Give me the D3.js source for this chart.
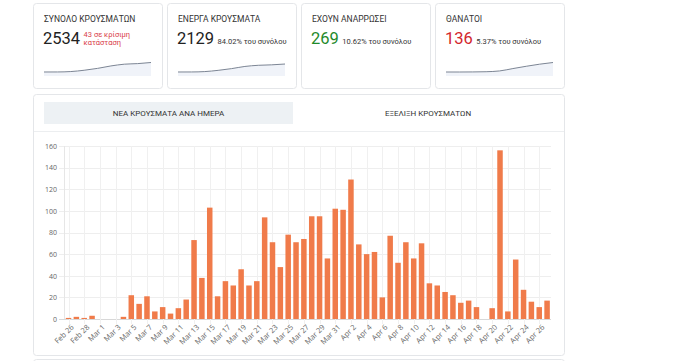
<!DOCTYPE html>
<html>
<head>
<meta charset="utf-8">
<script src="https://cdn.jsdelivr.net/npm/d3@7"></script>
<style>
  body { margin: 0; background: #fff; font-family: Roboto, "Open Sans", sans-serif; }
  svg { display: block; }
</style>
</head>
<body>
<svg id="page" width="680" height="361"></svg>
<script>
// summary cards
const cardTitles = ["ΣΥΝΟΛΟ ΚΡΟΥΣΜΑΤΩΝ", "ΕΝΕΡΓΑ ΚΡΟΥΣΜΑΤΑ", "ΕΧΟΥΝ ΑΝΑΡΡΩΣΕΙ", "ΘΑΝΑΤΟΙ"]
const cardValues = [2534, 2129, 269, 136]
const cardNotes = [["43 σε κρίσιμη", "κατάσταση"], ["84.02% του συνόλου"], ["10.62% του συνόλου"], ["5.37% του συνόλου"]]
const cardColors = ["#222", "#222", "#1f8a2b", "#d3262d"]
const noteColors = ["#d9404a", "#333", "#333", "#333"]

// sparklines (cumulative, sampled weekly)
const sparkTotal = [1, 9, 117, 464, 966, 1613, 2081, 2235, 2534]
const sparkActive = [1, 9, 112, 440, 900, 1480, 1790, 1910, 2129]
const sparkDeaths = [0, 0, 1, 4, 15, 49, 82, 112, 136]
const sparks = [sparkTotal, sparkActive, null, sparkDeaths]
const sparkMax = [2534, 2534, 0, 136]

// tabs
const tabs = ["ΝΕΑ ΚΡΟΥΣΜΑΤΑ ΑΝΑ ΗΜΕΡΑ", "ΕΞΕΛΙΞΗ ΚΡΟΥΣΜΑΤΩΝ"]

// new cases per day
const days = [
  "Feb 26", "Feb 27", "Feb 28", "Feb 29",
  "Mar 1", "Mar 2", "Mar 3", "Mar 4", "Mar 5", "Mar 6", "Mar 7", "Mar 8", "Mar 9", "Mar 10",
  "Mar 11", "Mar 12", "Mar 13", "Mar 14", "Mar 15", "Mar 16", "Mar 17", "Mar 18", "Mar 19", "Mar 20",
  "Mar 21", "Mar 22", "Mar 23", "Mar 24", "Mar 25", "Mar 26", "Mar 27", "Mar 28", "Mar 29", "Mar 30", "Mar 31",
  "Apr 1", "Apr 2", "Apr 3", "Apr 4", "Apr 5", "Apr 6", "Apr 7", "Apr 8", "Apr 9", "Apr 10",
  "Apr 11", "Apr 12", "Apr 13", "Apr 14", "Apr 15", "Apr 16", "Apr 17", "Apr 18", "Apr 19", "Apr 20",
  "Apr 21", "Apr 22", "Apr 23", "Apr 24", "Apr 25", "Apr 26", "Apr 27"
]
const newCases = [
  1, 2, 1, 3,
  0, 0, 0, 2, 22, 14, 21, 7, 11, 5,
  10, 18, 73, 38, 103, 21, 35, 31, 46, 31,
  35, 94, 71, 48, 78, 71, 74, 95, 95, 56, 102,
  101, 129, 69, 60, 62, 20, 77, 52, 71, 56,
  70, 33, 31, 25, 22, 15, 17, 11, 0, 10,
  156, 7, 55, 27, 16, 11, 17
]
const yTicks = [0, 20, 40, 60, 80, 100, 120, 140, 160]
const xTickLabels = days.filter((d, i) => i % 2 === 0)

const svg = d3.select('#page')

// ---- cards
const cardW = 129, cardTop = 3, cardH = 85
const cardX = d3.scaleOrdinal().domain(d3.range(4)).range([33, 167, 301, 435])

const card = svg.selectAll('g.card')
  .data(cardTitles)
  .enter()
  .append('g')
  .attr('class', 'card')
  .attr('transform', (d, i) => 'translate(' + cardX(i) + ',' + cardTop + ')')

card.append('rect')
  .attr('x', 0.5).attr('y', 0.5)
  .attr('width', cardW).attr('height', cardH)
  .attr('rx', 3)
  .attr('fill', '#fff')
  .attr('stroke', '#e4e6e9')

card.append('text')
  .attr('x', 11).attr('y', 18.5)
  .attr('font-size', 8.5)
  .attr('fill', '#333')
  .text(d => d)

card.append('text')
  .attr('class', 'num')
  .attr('x', 10).attr('y', 40.5)
  .attr('font-size', 16.5)
  .attr('fill', (d, i) => cardColors[i])
  .text((d, i) => cardValues[i])

card.each(function(d, i) {
  const g = d3.select(this)
  const numW = g.select('text.num').node().getComputedTextLength()
  const notes = cardNotes[i]
  const startY = notes.length > 1 ? 34 : 40.5
  notes.forEach((n, k) => {
    g.append('text')
      .attr('x', 10 + numW + 3.5)
      .attr('y', startY + k * 7.5)
      .attr('font-size', 7.5)
      .attr('fill', noteColors[i])
      .text(n)
  })

  const vals = sparks[i]
  if (!vals) return
  const sx = d3.scaleLinear().domain([0, vals.length - 1]).range([11, 118])
  const sy = d3.scaleLinear().domain([0, sparkMax[i]]).range([69, 59.5])
  g.append('path')
    .datum(vals)
    .attr('fill', '#e9eef6')
    .attr('opacity', 0.7)
    .attr('d', d3.area().x((v, k) => sx(k)).y0(73).y1(v => sy(v)).curve(d3.curveMonotoneX))
  g.append('path')
    .datum(vals)
    .attr('fill', 'none')
    .attr('stroke', '#7c8594')
    .attr('stroke-width', 1)
    .attr('d', d3.line().x((v, k) => sx(k)).y(v => sy(v)).curve(d3.curveMonotoneX))
})

// ---- lower panel
svg.append('rect')
  .attr('x', 33.5).attr('y', 94.5)
  .attr('width', 531).attr('height', 261)
  .attr('rx', 3)
  .attr('fill', '#fff')
  .attr('stroke', '#e4e6e9')

svg.append('rect')
  .attr('x', 33.5).attr('y', 359.5)
  .attr('width', 531).attr('height', 20)
  .attr('rx', 3)
  .attr('fill', '#fff')
  .attr('stroke', '#e4e6e9')

svg.append('rect')
  .attr('x', 44).attr('y', 102)
  .attr('width', 249).attr('height', 22)
  .attr('fill', '#edf1f4')

svg.selectAll('text.tab')
  .data(tabs)
  .enter()
  .append('text')
  .attr('class', 'tab')
  .attr('x', (d, i) => i === 0 ? 168.5 : 428)
  .attr('y', 116)
  .attr('text-anchor', 'middle')
  .attr('font-size', 8)
  .attr('fill', '#333')
  .text(d => d)

svg.append('line')
  .attr('x1', 34).attr('x2', 564)
  .attr('y1', 131.5).attr('y2', 131.5)
  .attr('stroke', '#eceef0')

// ---- bar chart
const x = d3.scaleBand()
  .domain(days)
  .range([64.6, 551])
  .paddingInner(0.3)
  .paddingOuter(0.15)

const y = d3.scaleLinear()
  .domain([0, 160])
  .range([319, 146])

const plot = svg.append('g')

// horizontal grid
plot.selectAll('line.hgrid')
  .data(yTicks)
  .enter()
  .append('line')
  .attr('x1', 59).attr('x2', 551)
  .attr('y1', d => Math.round(y(d)) + 0.5)
  .attr('y2', d => Math.round(y(d)) + 0.5)
  .attr('stroke', d => d === 0 ? '#d8d8d8' : '#eeeeee')

// vertical grid at labelled days
plot.selectAll('line.vgrid')
  .data(xTickLabels)
  .enter()
  .append('line')
  .attr('x1', d => Math.round(x(d) + x.bandwidth() / 2) + 0.5)
  .attr('x2', d => Math.round(x(d) + x.bandwidth() / 2) + 0.5)
  .attr('y1', 146).attr('y2', 324)
  .attr('stroke', '#f0f0f0')

plot.append('line')
  .attr('x1', 64.5).attr('x2', 64.5)
  .attr('y1', 146).attr('y2', 319)
  .attr('stroke', '#e6e6e6')

const yAxis = d3.axisLeft(y)
  .tickValues(yTicks)
  .tickSize(0)
  .tickPadding(7)

plot.append('g')
  .attr('transform', 'translate(64,0)')
  .call(yAxis)
  .call(g => g.select('.domain').remove())
  .call(g => g.selectAll('text')
    .attr('font-family', '"Open Sans", sans-serif')
    .attr('font-size', 7)
    .attr('fill', '#666'))

plot.selectAll('rect.bar')
  .data(newCases)
  .enter()
  .append('rect')
  .attr('class', 'bar')
  .attr('x', (d, i) => x(days[i]))
  .attr('width', x.bandwidth())
  .attr('y', d => y(d))
  .attr('height', d => y(0) - y(d))
  .attr('fill', '#f07b4a')

const xAxis = d3.axisBottom(x)
  .tickValues(xTickLabels)
  .tickSize(0)
  .tickPadding(0)

plot.append('g')
  .attr('transform', 'translate(0,321)')
  .call(xAxis)
  .call(g => g.select('.domain').remove())
  .call(g => g.selectAll('text')
    .attr('font-family', '"Open Sans", sans-serif')
    .attr('font-size', 7.5)
    .attr('fill', '#666')
    .attr('text-anchor', 'end')
    .attr('dy', '0.7em')
    .attr('transform', 'translate(2,3) rotate(-45)'))
</script>
</body>
</html>
